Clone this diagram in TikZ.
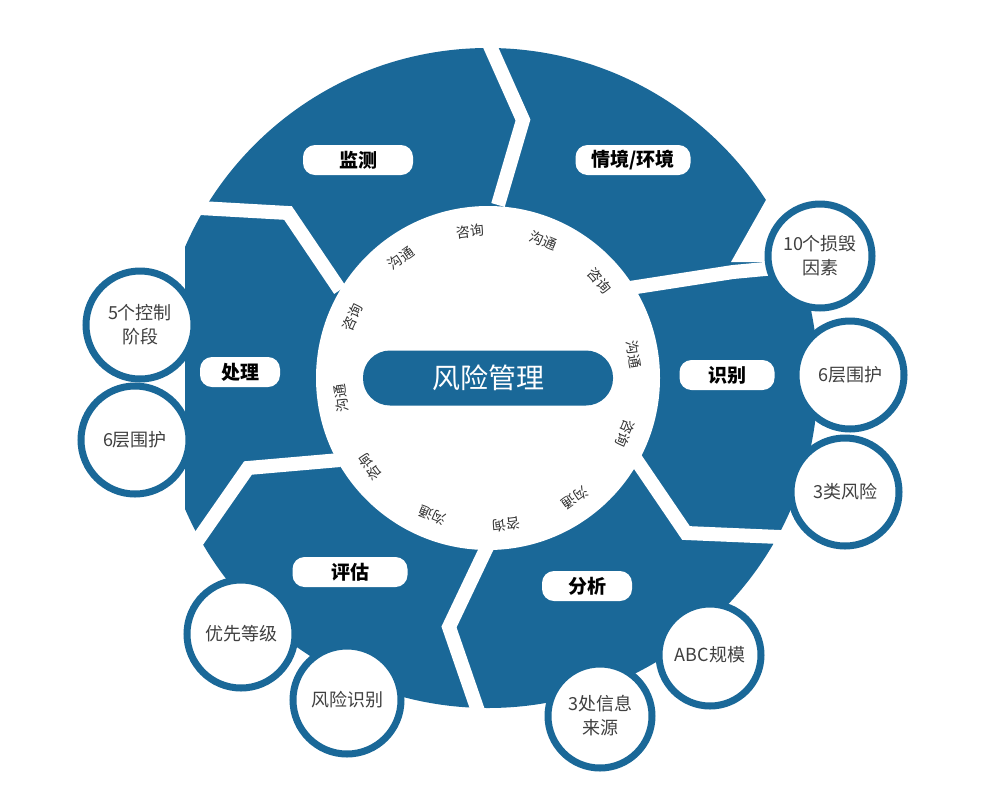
\documentclass[tikz,border=0pt]{standalone}
\usepackage{fontspec}
\setmainfont{Noto Sans CJK SC}
\usetikzlibrary{calc}
\definecolor{rb}{RGB}{26,104,152}
\begin{document}
\begin{tikzpicture}[x=1pt,y=-1pt,
  gap/.style={white,line width=14pt,line join=miter},
  pill/.style={fill=white,rounded corners=12pt,minimum height=30pt,font=\fontsize{19}{19}\selectfont\bfseries},
  bub/.style={circle,draw=rb,line width=7pt,fill=white,minimum size=#1,align=center,inner sep=0pt,font=\fontsize{18}{24}\selectfont,text=black!75},
  ring/.style={font=\fontsize{14}{14}\selectfont,text=black!80}]
\useasboundingbox (0,0) rectangle (983,796);
\coordinate (c) at (488,378);
\fill[rb] (c) circle[radius=330];
% straight cuts
\fill[white] (766,200) -- (731,262) -- (900,262) -- (900,120) -- cycle;
\fill[white] (100,210) rectangle (185,530);
% gaps
\draw[gap] (474,10) -- (523,120) -- (498,205);
\draw[gap] (630,288) -- (733,272) -- (840,262);
\draw[gap] (635,458) -- (686,533) -- (850,540);
\draw[gap] (488,545) -- (449,627) -- (488,740);
\draw[gap] (340,460) -- (248,468) -- (202,534) -- (170,580);
\draw[gap] (340,290) -- (288,213) -- (200,208) -- (130,205);
\fill[white] (c) circle[radius=172];
% center
\node[fill=rb,rounded corners=27pt,minimum width=250pt,minimum height=55pt,text=white,font=\fontsize{28}{28}\selectfont] (m) at (c) {风险管理};
% ring texts
\foreach \a/\t [count=\i] in {156/咨询,126/沟通,97/咨询,68/沟通,41/咨询,9/沟通,-22/咨询,-54/沟通,-83/咨询,-112/沟通,-143/咨询,-172/沟通}{
  \node[ring,rotate=\a-90] (r\i) at ($(c)+({148*cos(\a)},{-148*sin(\a)})$) {\t};
}
% labels
\node[pill,minimum width=110pt] (l1) at (358,160) {监测};
\node[pill,minimum width=115pt] (l2) at (633,160) {情境/环境};
\node[pill,minimum width=80pt] (l3) at (240,372) {处理};
\node[pill,minimum width=95pt] (l4) at (727,375) {识别};
\node[pill,minimum width=115pt] (l5) at (350,572) {评估};
\node[pill,minimum width=90pt] (l6) at (587,586) {分析};
% bubbles
\node[bub=104pt] (b1) at (820,256) {10个损毁\\因素};
\node[bub=108pt] (b2) at (850,375) {6层围护};
\node[bub=108pt] (b3) at (845,492) {3类风险};
\node[bub=102pt] (b4) at (710,655) {ABC规模};
\node[bub=104pt] (b5) at (600,716) {3处信息\\来源};
\node[bub=108pt] (b6) at (347,700) {风险识别};
\node[bub=108pt] (b7) at (241,634) {优先等级};
\node[bub=108pt] (b8) at (135,440) {6层围护};
\node[bub=108pt] (b9) at (140,325) {5个控制\\阶段};
\end{tikzpicture}
\end{document}
